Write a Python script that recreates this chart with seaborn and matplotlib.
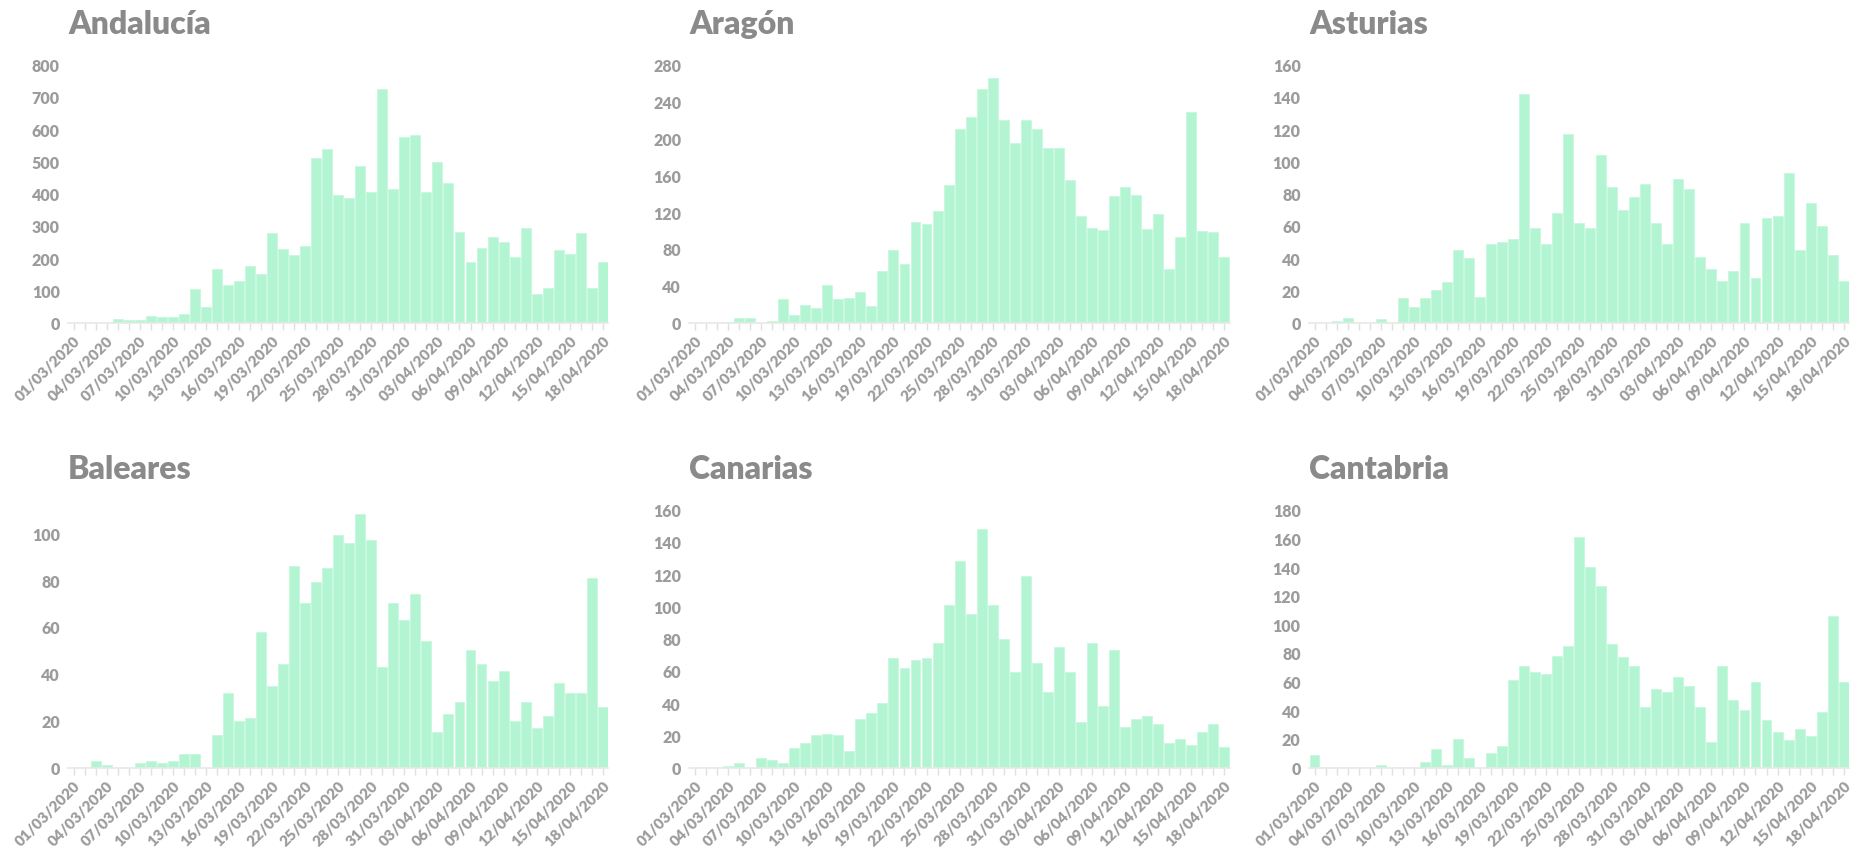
import numpy as np
import pandas as pd
import matplotlib
matplotlib.use("Agg")
import matplotlib.pyplot as plt
import seaborn as sns

dates = pd.date_range("2020-03-01", "2020-04-18", freq="D").strftime("%d/%m/%Y").tolist()

andalucia = [0, 0, 0, 0, 10, 8, 9, 21, 18, 19, 26, 104, 50, 168, 117, 130, 177, 150, 279, 229,
             211, 237, 511, 540, 397, 388, 486, 405, 725, 415, 576, 583, 404, 497, 433, 281, 187,
             232, 265, 250, 204, 295, 89, 108, 224, 213, 277, 108, 187]
aragon = [0, 0, 0, 1, 5, 5, 0, 2, 26, 8, 19, 16, 41, 26, 27, 33, 18, 56, 79, 64,
          109, 107, 121, 150, 210, 223, 254, 266, 220, 195, 220, 210, 190, 190, 155, 116, 103,
          101, 137, 147, 139, 102, 118, 58, 93, 229, 99, 98, 71]
asturias = [0, 0, 1, 3, 0, 0, 2, 0, 15, 10, 15, 20, 25, 45, 40, 16, 49, 50, 52, 142,
            59, 49, 68, 117, 62, 59, 104, 84, 70, 78, 86, 62, 49, 89, 83, 41, 33,
            26, 32, 62, 28, 65, 66, 93, 45, 74, 60, 42, 26]
baleares = [0, 0, 3, 1, 0, 0, 2, 3, 2, 3, 6, 6, 0, 14, 32, 20, 21, 58, 35, 44,
            86, 70, 79, 85, 99, 96, 108, 97, 43, 70, 63, 74, 54, 15, 23, 28, 50,
            44, 37, 41, 20, 28, 17, 22, 36, 32, 32, 81, 26]
canarias = [0, 0, 0, 1, 3, 0, 6, 5, 3, 12, 15, 20, 21, 20, 10, 30, 34, 40, 68, 62,
            67, 68, 77, 101, 128, 95, 148, 101, 80, 59, 119, 65, 47, 75, 59, 28, 77,
            38, 73, 25, 30, 32, 27, 15, 18, 14, 22, 27, 13]
cantabria = [9, 0, 0, 0, 0, 0, 2, 0, 0, 0, 4, 13, 2, 20, 7, 0, 10, 15, 61, 71,
             67, 65, 78, 85, 161, 140, 127, 86, 77, 71, 42, 55, 53, 63, 57, 42, 18,
             71, 47, 40, 60, 33, 25, 19, 27, 22, 39, 106, 60]

regions = ["Andalucía", "Aragón", "Asturias", "Baleares", "Canarias", "Cantabria"]
series = [andalucia, aragon, asturias, baleares, canarias, cantabria]
y_max = [800, 280, 160, 110, 160, 180]
y_step = [100, 40, 20, 20, 20, 20]

BAR = "#b3f5d2"
TITLE_C = "#8a8a8a"
TICK_C = "#9c9c9c"

sns.set_theme(style="white")
plt.rcParams["font.family"] = ["Lato", "DejaVu Sans"]

fig = plt.figure(figsize=(18.66, 8.54), dpi=100)
lefts = [0.0365, 0.3695, 0.7015]
bottoms = [0.621, 0.1]
w, h = 0.2895, 0.302

for k, (name, vals) in enumerate(zip(regions, series)):
    r, c = divmod(k, 3)
    ax = fig.add_axes([lefts[c], bottoms[r], w, h])
    df = pd.DataFrame({"fecha": dates, "casos": vals})
    sns.barplot(data=df, x="fecha", y="casos", ax=ax, color=BAR, saturation=1,
                width=0.9, edgecolor="#c6f8dd", linewidth=0.6)
    ax.set_xlim(-0.5, len(dates) - 0.5)
    ax.set_ylim(0, y_max[k])
    ax.set_yticks(np.arange(0, y_max[k] + 1, y_step[k]))
    ax.set_xticks(range(len(dates)))
    ax.set_xticklabels([d if i % 3 == 0 else "" for i, d in enumerate(dates)],
                       rotation=45, ha="right", rotation_mode="anchor")
    ax.set_xlabel("")
    ax.set_ylabel("")
    for s in ["top", "right", "left"]:
        ax.spines[s].set_visible(False)
    ax.spines["bottom"].set_color("#e8e8e8")
    ax.spines["bottom"].set_linewidth(1.2)
    ax.tick_params(axis="x", length=5, width=1, color="#e0e0e0", pad=3,
                   labelsize=11, labelcolor=TICK_C, bottom=True)
    ax.tick_params(axis="y", length=0, pad=6, labelsize=11.5, labelcolor=TICK_C)
    for lab in ax.get_xticklabels() + ax.get_yticklabels():
        lab.set_fontweight("heavy")
    ax.grid(False)
    ax.set_facecolor("white")
    ax.text(0.0, 1.16, name, transform=ax.transAxes, fontsize=23, fontweight="heavy",
            color=TITLE_C, ha="left", va="center")

fig.savefig("out.png", dpi=100, facecolor="white")
